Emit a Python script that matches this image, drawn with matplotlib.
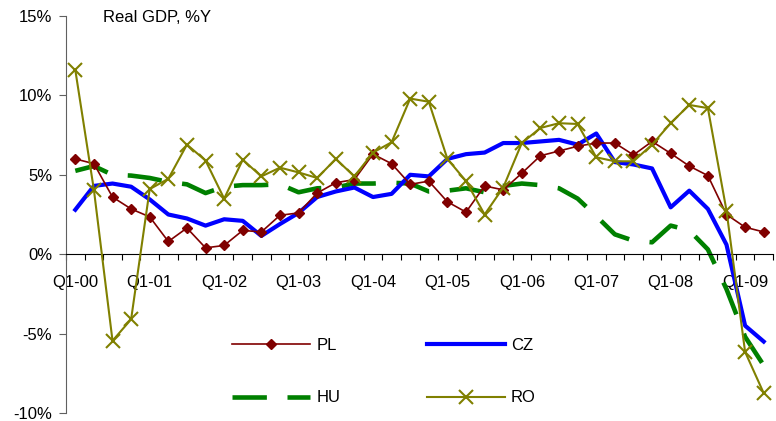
import matplotlib
matplotlib.use("Agg")
import matplotlib.pyplot as plt
import numpy as np

plt.rcParams['font.family'] = ['Liberation Sans', 'DejaVu Sans']

years = ['00', '01', '02', '03', '04', '05', '06', '07', '08', '09']
quarters = [f"Q{q}-{y}" for y in years for q in range(1, 5)][:38]
tick_labels = [f"Q1-{y}" for y in years]

pl = [6.0, 5.7, 3.6, 2.85, 2.35, 0.8, 1.65, 0.4, 0.55, 1.5, 1.4, 2.45,
      2.6, 3.85, 4.5, 4.7, 6.3, 5.7, 4.4, 4.6, 3.3, 2.65, 4.3, 4.05,
      5.1, 6.2, 6.5, 6.8, 7.0, 7.0, 6.25, 7.1, 6.35, 5.55, 4.95, 2.5,
      1.7, 1.4]
cz = [2.8, 4.3, 4.45, 4.25, 3.45, 2.5, 2.25, 1.8, 2.2, 2.1, 1.15, 1.9,
      2.6, 3.6, 3.95, 4.2, 3.6, 3.8, 5.0, 4.9, 6.0, 6.3, 6.4, 7.0,
      7.0, 7.1, 7.2, 6.9, 7.6, 5.8, 5.65, 5.4, 2.95, 4.0, 2.85, 0.6,
      -4.5, -5.5]
hu = [5.25, 5.55, 5.0, 4.95, 4.8, 4.55, 4.4, 3.85, 4.25, 4.35, 4.35, 4.4,
      3.9, 4.15, 4.2, 4.45, 4.45, 4.5, 4.45, 3.95, 4.0, 4.15, 3.9, 4.3,
      4.45, 4.35, 4.15, 3.5, 2.4, 1.25, 0.85, 0.75, 1.8, 1.5, 0.3, -2.2,
      -5.2, -7.0]
ro = [11.6, 4.05, -5.45, -4.1, 4.1, 4.75, 6.9, 5.9, 3.5, 5.95, 4.9, 5.45,
      5.15, 4.8, 6.0, 4.9, 6.4, 7.05, 9.8, 9.6, 6.0, 4.6, 2.5, 4.2,
      7.0, 7.95, 8.25, 8.2, 6.1, 5.85, 5.85, 6.9, 8.25, 9.4, 9.2, 2.75,
      -6.15, -8.75]

W, H = 776, 421
fig = plt.figure(figsize=(W / 100, H / 100), dpi=100)
ax = fig.add_axes([66 / W, 1 - 413 / H, (773 - 66) / W, (413 - 16) / H])

x = np.arange(len(quarters))
l_hu, = ax.plot(x, hu, color='#008000', lw=3.3, zorder=2, solid_capstyle='butt',
                dash_capstyle='butt', label='HU')
l_hu.set_dashes([7.5, 4.5])
l_cz, = ax.plot(x, cz, color='#0000FF', lw=3.0, zorder=3, label='CZ')
l_pl, = ax.plot(x, pl, color='#800000', lw=1.2, marker='D', markersize=5.5,
                zorder=4, label='PL')
l_ro, = ax.plot(x, ro, color='#808000', lw=1.5, marker='x', markersize=10,
                markeredgewidth=1.5, zorder=5, label='RO')

ax.set_xlim(-0.5, len(quarters) - 0.5)
ax.set_ylim(-10, 15)
ax.set_yticks([-10, -5, 0, 5, 10, 15])
ax.set_yticklabels(['-10%', '-5%', '0%', '5%', '10%', '15%'])

ax.spines['top'].set_visible(False)
ax.spines['right'].set_visible(False)
ax.spines['bottom'].set_position(('data', 0))
ax.spines['left'].set_color('#606060')

ax.set_xticks(np.arange(-0.5, len(quarters), 1.0))
ax.set_xticklabels([])
ax.set_xticks(np.arange(0, len(quarters), 4), minor=True)
ax.set_xticklabels(tick_labels, minor=True)
ax.tick_params(axis='x', which='major', direction='out', length=4.5, width=0.8)
ax.tick_params(axis='x', which='minor', length=0, pad=15, labelsize=12)
ax.tick_params(axis='y', direction='out', length=5, width=0.8, pad=5,
               labelsize=12, color='#606060')

ax.text(103 / W, 1 - 18 / H, 'Real GDP, %Y', transform=fig.transFigure,
        fontsize=12, ha='left', va='center')

leg = fig.legend([l_pl, l_hu, l_cz, l_ro], ['PL', 'HU', 'CZ', 'RO'], ncol=2,
                 loc='upper left', bbox_to_anchor=(232 / W, 1 - 338 / H),
                 frameon=False, fontsize=12, handlelength=4.7,
                 handletextpad=0.35, columnspacing=5.2, labelspacing=2.25,
                 borderpad=0, borderaxespad=0, numpoints=1)

fig.savefig('out.png', dpi=100)
